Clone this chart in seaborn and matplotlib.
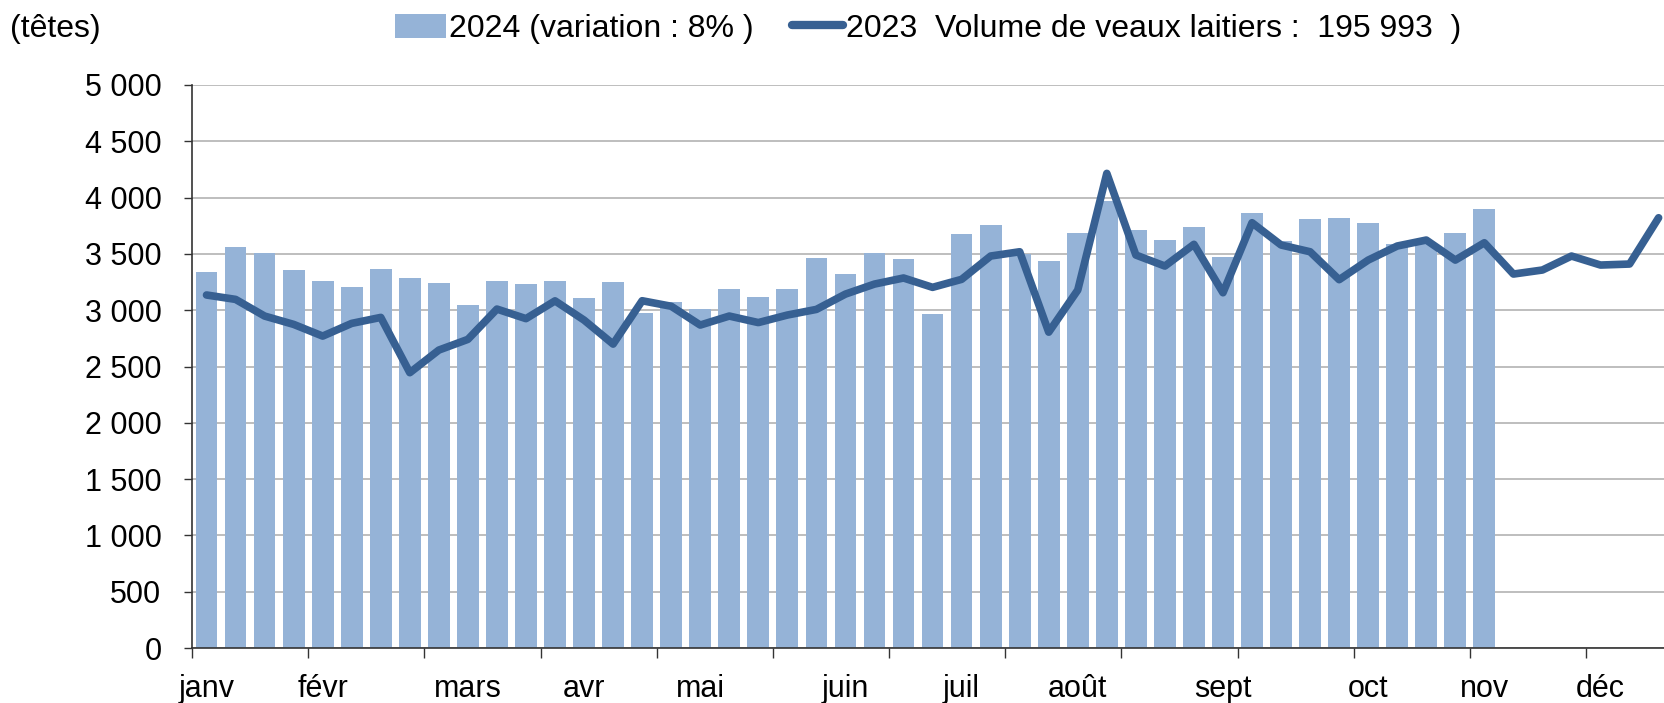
import pandas as pd
import seaborn as sns
import matplotlib.pyplot as plt
from matplotlib.patches import Patch
from matplotlib.lines import Line2D
from matplotlib.ticker import FixedLocator, MultipleLocator, FuncFormatter

# weekly slaughter volumes (head count)
VOLUMES_2024 = [
    3340, 3565, 3505, 3355, 3260, 3205, 3365, 3290, 3240, 3045,
    3262, 3235, 3262, 3108, 3247, 2978, 3075, 3010, 3188, 3114,
    3188, 3463, 3321, 3510, 3452, 2963, 3674, 3753, 3500, 3437,
    3682, 3972, 3712, 3626, 3736, 3469, 3860, 3617, 3807, 3818,
    3774, 3590, 3600, 3685, 3895,
]
VOLUMES_2023 = [
    3135, 3096, 2948, 2874, 2770, 2883, 2936, 2445, 2646, 2741,
    3010, 2925, 3083, 2912, 2699, 3084, 3035, 2868, 2948, 2890,
    2957, 3007, 3143, 3232, 3286, 3203, 3274, 3481, 3519, 2805,
    3179, 4215, 3490, 3392, 3585, 3155, 3777, 3579, 3519, 3271,
    3445, 3570, 3623, 3445, 3599, 3321, 3357, 3481, 3401, 3410,
    3821,
]
MONTH_LABELS = ["janv", "févr", "mars", "avr", "mai", "juin",
                "juil", "août", "sept", "oct", "nov", "déc"]
MONTH_WEEKS = [0, 4, 9, 13, 17, 22, 26, 30, 35, 40, 44, 48]
LABEL_2024 = "2024 (variation : 8% )"
LABEL_2023 = "2023  Volume de veaux laitiers :  195 993  )"
UNIT_LABEL = "(têtes)"

BAR_COLOR = "#95B3D7"
LINE_COLOR = "#376092"
AXIS_COLOR = "#333333"
FONT_SIZE = 22
LEGEND_SIZE = 23

sns.set_theme(style="white")
plt.rcParams["font.family"] = ["Liberation Sans", "DejaVu Sans"]
plt.rcParams["text.color"] = "black"
plt.rcParams["xtick.color"] = "black"
plt.rcParams["ytick.color"] = "black"

fig = plt.figure(figsize=(16.65, 7.03), dpi=100)
ax = fig.add_axes([192 / 1665, 55 / 703, 1473 / 1665, 563 / 703])

df24 = pd.DataFrame({"semaine": range(len(VOLUMES_2024)), "volume": VOLUMES_2024})
df23 = pd.DataFrame({"semaine": range(len(VOLUMES_2023)), "volume": VOLUMES_2023})

sns.barplot(data=df24, x="semaine", y="volume", color=BAR_COLOR, saturation=1,
            width=0.75, linewidth=0, ax=ax, zorder=2)
sns.lineplot(data=df23, x="semaine", y="volume", color=LINE_COLOR, linewidth=5.5,
             ax=ax, zorder=3)

ax.set_xlim(-0.5, 50.22)
ax.set_ylim(0, 5000)
ax.set_xlabel("")
ax.set_ylabel("")

# y axis: gridlines every 500, French thousands separator
ax.yaxis.set_major_locator(MultipleLocator(500))
ax.yaxis.set_major_formatter(
    FuncFormatter(lambda v, _: f"{v:,.0f}".replace(",", "\u00a0")))
ax.grid(axis="y", color="#BEBEBE", linewidth=1.4)
ax.set_axisbelow(True)
ax.tick_params(axis="y", which="major", left=True, length=6, width=1,
               color=AXIS_COLOR, pad=16, labelsize=FONT_SIZE)

# x axis: ticks every 4 weeks, month names at the first week of the month
ax.xaxis.set_major_locator(FixedLocator([-0.5 + 4 * k for k in range(13)]))
ax.xaxis.set_major_formatter(FuncFormatter(lambda v, _: ""))
ax.xaxis.set_minor_locator(FixedLocator(MONTH_WEEKS))
ax.xaxis.set_minor_formatter(FuncFormatter(
    lambda v, pos: MONTH_LABELS[MONTH_WEEKS.index(int(round(v)))]))
ax.tick_params(axis="x", which="major", bottom=True, length=7, width=1,
               color=AXIS_COLOR)
ax.tick_params(axis="x", which="minor", bottom=True, length=0, pad=19,
               labelsize=FONT_SIZE)

for side in ["top", "right"]:
    ax.spines[side].set_visible(False)
for side in ["left", "bottom"]:
    ax.spines[side].set_color(AXIS_COLOR)
    ax.spines[side].set_linewidth(1.2)

fig.text(10 / 1665, 1 - 29 / 703, UNIT_LABEL, fontsize=LEGEND_SIZE,
         ha="left", va="center")

handles = [
    Patch(facecolor=BAR_COLOR, edgecolor="none", label=LABEL_2024),
    Line2D([0], [0], color=LINE_COLOR, linewidth=6, label=LABEL_2023),
]
fig.legend(handles=handles, loc="center", bbox_to_anchor=(928 / 1665, 1 - 29 / 703),
           ncol=2, frameon=False, fontsize=LEGEND_SIZE, handlelength=1.6,
           handleheight=0.8, handletextpad=0.1, columnspacing=1.2,
           borderaxespad=0, borderpad=0)

fig.savefig("out.png", dpi=100)
plt.close(fig)
